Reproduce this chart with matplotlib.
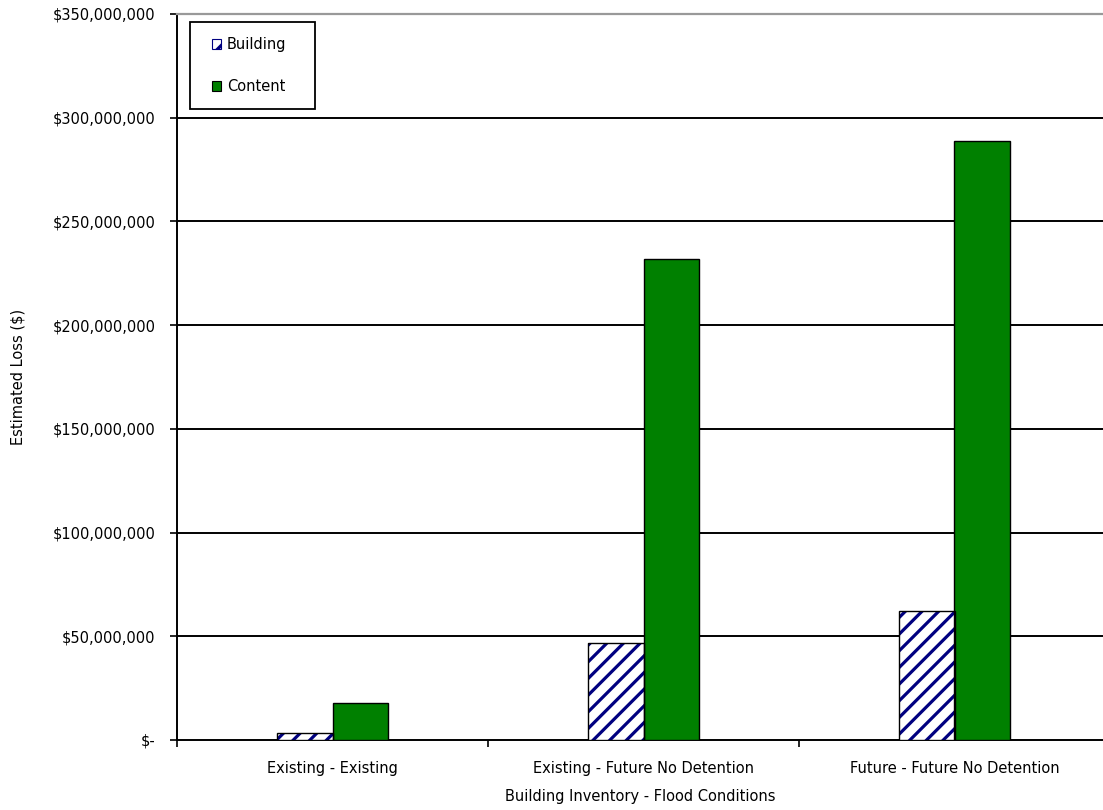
import matplotlib
matplotlib.use("Agg")
import matplotlib.pyplot as plt
from matplotlib.patches import Patch, Rectangle
from matplotlib.ticker import FuncFormatter, FixedLocator

plt.rcParams['font.family'] = ['DejaVu Sans']
plt.rcParams['hatch.linewidth'] = 2.3

# Flood-loss estimates by inventory / flood scenario
categories = ["Existing - Existing", "Existing - Future No Detention", "Future - Future No Detention"]
building_loss = [3_500_000, 47_000_000, 62_000_000]
content_loss = [18_000_000, 232_000_000, 289_000_000]
y_ticks = [0, 50_000_000, 100_000_000, 150_000_000, 200_000_000, 250_000_000, 300_000_000, 350_000_000]

NAVY = '#000080'
GREEN = '#008000'
FS = 10.5

W, H = 1103, 810
fig = plt.figure(figsize=(W / 100, H / 100), dpi=100)
left, right, bottom, top = 177, 1110, 740, 14
ax = fig.add_axes([left / W, (H - bottom) / H, (right - left) / W, (bottom - top) / H])

bar_w = 0.18
xs = list(range(len(categories)))
bx = [x - bar_w / 2 for x in xs]
# hatched fill (navy stripes), then a black outline on top
ax.bar(bx, building_loss, width=bar_w, facecolor='white', edgecolor=NAVY,
       linewidth=0, hatch='//', zorder=3)
ax.bar(bx, building_loss, width=bar_w, facecolor='none', edgecolor='black',
       linewidth=1.0, zorder=4)
ax.bar([x + bar_w / 2 for x in xs], content_loss, width=bar_w, facecolor=GREEN,
       edgecolor='black', linewidth=1.0, zorder=3)

ax.set_xlim(-0.5, 2.5)
ax.set_ylim(0, 350_000_000)

# Horizontal gridlines
ax.set_yticks(y_ticks)
for v in y_ticks[1:-1]:
    ax.axhline(v, color='black', linewidth=1.4, zorder=1)

def money(v, pos):
    if v == 0:
        return "$-"
    return "${:,.0f}".format(v)

ax.yaxis.set_major_formatter(FuncFormatter(money))
ax.tick_params(axis='y', direction='out', length=5, width=1.2, pad=10.5, labelsize=FS, colors='black')

ax.set_xticks(xs)
ax.set_xticklabels(categories)
ax.xaxis.set_minor_locator(FixedLocator([-0.5, 0.5, 1.5, 2.5]))
ax.tick_params(axis='x', which='major', length=0, pad=15, labelsize=FS)
ax.tick_params(axis='x', which='minor', direction='out', length=5, width=1.2)

for s in ['left', 'bottom']:
    ax.spines[s].set_color('black')
    ax.spines[s].set_linewidth(1.4)
ax.spines['top'].set_color('#999999')
ax.spines['top'].set_linewidth(1.6)
ax.spines['right'].set_visible(False)

fig.text(18 / W, 1 - 377 / H, "Estimated Loss ($)", rotation=90, ha='center', va='center', fontsize=FS)
fig.text(640 / W, 1 - 797 / H, "Building Inventory - Flood Conditions", ha='center', va='center', fontsize=FS)

# Legend: entries without frame, plus a plain rectangular box around them
handles = [Patch(facecolor='white', edgecolor=NAVY, hatch='//', linewidth=0.8),
           Patch(facecolor=GREEN, edgecolor='black', linewidth=0.8)]
leg = fig.legend(handles, ["Building", "Content"], loc='upper left',
                 bbox_to_anchor=(212 / W, 1 - 37 / H), fontsize=FS,
                 handlelength=0.62, handleheight=0.62, handletextpad=0.4,
                 labelspacing=1.85, borderpad=0, borderaxespad=0,
                 frameon=False)
fig.patches.append(Rectangle((190 / W, 1 - 109 / H), 125 / W, 87 / H,
                             transform=fig.transFigure, facecolor='white',
                             edgecolor='black', linewidth=1.3, zorder=4))
leg.set_zorder(5)

fig.savefig("out.png", dpi=100)
